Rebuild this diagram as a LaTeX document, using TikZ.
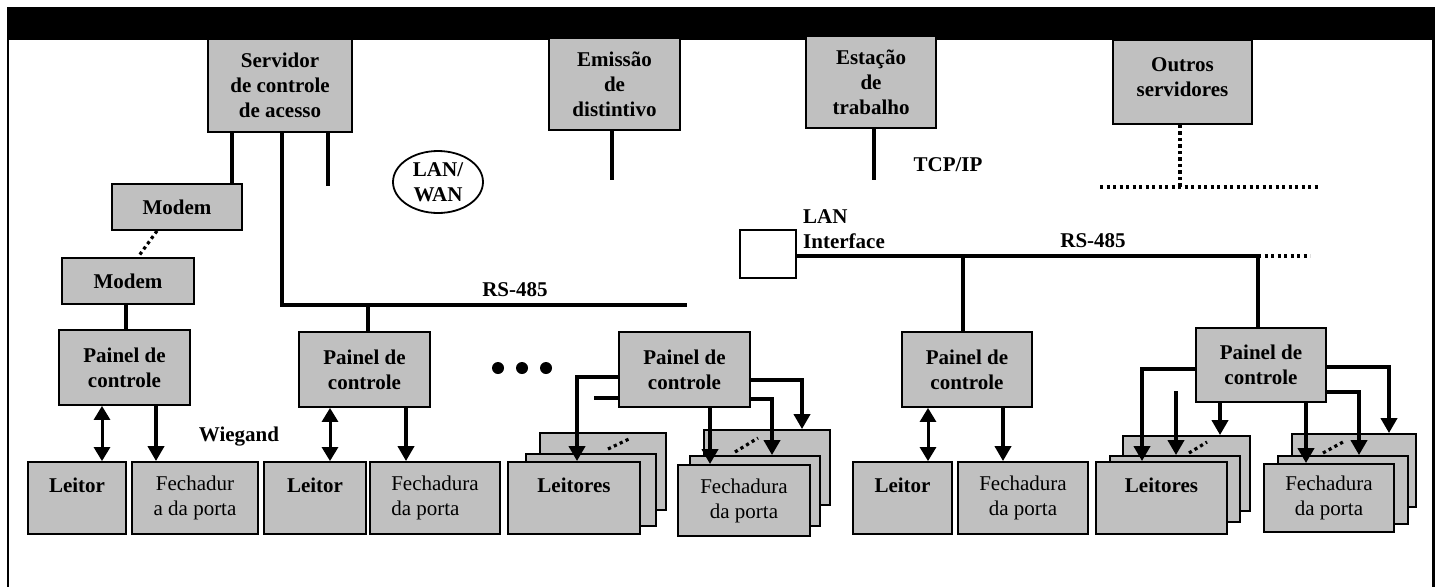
\documentclass[tikz,border=0pt]{standalone}
\usepackage{fontspec}
\setmainfont{Liberation Serif}
\usetikzlibrary{arrows.meta,shapes.geometric}
\definecolor{boxgray}{RGB}{192,192,192}
\newcommand\diagfont{\fontsize{21}{25}\selectfont}
\tikzset{
 box/.style={draw, line width=1.8pt, fill=boxgray, inner sep=0pt, align=center, font=\diagfont\bfseries},
 fech/.style={box, font=\diagfont},
 conn/.style={line width=4pt},
 arr/.style={line width=4pt, -{Triangle[width=16pt,length=15pt]}},
 darr/.style={line width=3pt, {Triangle[width=16pt,length=14pt]}-{Triangle[width=16pt,length=14pt]}},
 dots/.style={line width=3.2pt, dash pattern=on 3.2pt off 3.3pt},
 lbl/.style={inner sep=0pt, align=center, font=\diagfont\bfseries}
}
\begin{document}
\begin{tikzpicture}[x=1pt,y=-1pt]
\useasboundingbox (0,0) rectangle (1437,587);
% frame
\fill (7,7) rectangle (1435,40);
\draw[line width=2.3pt] (8,40) -- (8,587);
\draw[line width=2.3pt] (1433.5,40) -- (1433.5,587);
% top boxes
\node[box, minimum width=144pt, minimum height=93pt] (serv) at (280,85.5) {Servidor\\de controle\\de acesso};
\node[box, minimum width=131pt, minimum height=92pt] (emis) at (614.5,84) {Emissão\\de\\distintivo};
\node[box, minimum width=130pt, minimum height=92pt] (estac) at (871,82) {Estação\\de\\trabalho};
\node[box, minimum width=139pt, minimum height=84pt] (outros) at (1182.5,82) {Outros\\servidores\\[-15pt]\mbox{}};
\node[draw, ellipse, line width=1.8pt, fill=white, minimum width=90pt, minimum height=62pt, inner sep=0pt, align=center, font=\diagfont\bfseries] (lanwan) at (438,182) {LAN/\\WAN};
\node[box, minimum width=130pt, minimum height=46pt] (mod1) at (177,207) {Modem};
\node[box, minimum width=132pt, minimum height=46pt] (mod2) at (128,281) {Modem};
\node[draw, line width=1.8pt, fill=white, minimum width=56pt, minimum height=48pt, inner sep=0pt] (lanif) at (768,254) {};
% panels
\node[box, minimum width=131pt, minimum height=75pt] (p1) at (124.5,367.5) {Painel de\\controle};
\node[box, minimum width=131pt, minimum height=75pt] (p2) at (364.5,369.5) {Painel de\\controle};
\node[box, minimum width=131pt, minimum height=75pt] (p3) at (684.5,369.5) {Painel de\\controle};
\node[box, minimum width=130pt, minimum height=75pt] (p4) at (967,369.5) {Painel de\\controle};
\node[box, minimum width=130pt, minimum height=74pt] (p5) at (1261,365) {Painel de\\controle};
% bottom boxes
\node[box, minimum width=98pt, minimum height=72pt] (l1) at (77,498) {Leitor\\\mbox{}};
\node[fech, minimum width=126pt, minimum height=72pt] (f1) at (195,498) {Fechadur\\a da porta};
\node[box, minimum width=102pt, minimum height=72pt] (l2) at (315,498) {Leitor\\\mbox{}};
\node[fech, align=left, minimum width=130pt, minimum height=72pt] (f2) at (435,498) {Fechadura\\da porta};
\node[box, minimum width=126pt, minimum height=77pt] (ls1b) at (603,471.5) {};
\node[box, minimum width=130pt, minimum height=72pt] (ls1m) at (591,490) {};
\node[box, minimum width=132pt, minimum height=72pt] (ls1) at (574,498) {Leitores\\\mbox{}};
\node[box, minimum width=126pt, minimum height=75pt] (fs1b) at (767,467.5) {};
\node[box, minimum width=130pt, minimum height=70pt] (fs1m) at (755,491) {};
\node[fech, minimum width=132pt, minimum height=71pt] (fs1) at (744,500.5) {Fechadura\\da porta};
\node[box, minimum width=99pt, minimum height=72pt] (l3) at (902.5,498) {Leitor\\\mbox{}};
\node[fech, minimum width=130pt, minimum height=72pt] (f4) at (1023,498) {Fechadura\\da porta};
\node[box, minimum width=127pt, minimum height=75pt] (ls2b) at (1186.5,473.5) {};
\node[box, minimum width=130pt, minimum height=66pt] (ls2m) at (1175,489) {};
\node[box, minimum width=131pt, minimum height=72pt] (ls2) at (1161.5,498) {Leitores\\\mbox{}};
\node[box, minimum width=124pt, minimum height=73pt] (fs2b) at (1354,470.5) {};
\node[box, minimum width=130pt, minimum height=68pt] (fs2m) at (1343,490) {};
\node[fech, minimum width=130pt, minimum height=68pt] (fs2) at (1329,498) {Fechadura\\da porta};
% stack dotted marks
\draw[dots] (608,449) -- (631,438);
\draw[dots] (735,452) -- (758,438);
\draw[dots] (1189,453) -- (1207,442);
\draw[dots] (1323,453) -- (1343,442);
% ellipsis dots
\fill (498,368) circle[radius=6pt];
\fill (522,368) circle[radius=6pt];
\fill (546,368) circle[radius=6pt];
% labels
\node[lbl] (rs1) at (515,290) {RS-485};
\node[lbl] (rs2) at (1093,241) {RS-485};
\node[lbl] (tcp) at (948,165) {TCP/IP};
\node[lbl, align=left, anchor=west] (lanl) at (803,229.5) {LAN\\Interface};
\node[lbl] (wieg) at (239,437) {Wiegand};
% top connectors
\draw[conn] (serv.south -| 232,0) -- (mod1.north -| 232,0);
\coordinate (b1e) at (687,305);
\draw[conn] (serv.south -| 282,0) |- (b1e);
\coordinate (sst) at (328,186);
\draw[conn] (serv.south -| sst) -- (sst);
\coordinate (est) at (612,180);
\draw[conn] (emis.south -| est) -- (est);
\coordinate (tst) at (874,180);
\draw[conn] (estac.south -| tst) -- (tst);
\coordinate (ol) at (1100,187);
\coordinate (or) at (1320,187);
\draw[dots] (ol) -- (or);
\draw[dots] (outros.south -| 1180,0) -- (ol -| 1180,0);
\draw[dots] (mod1.south -| 157,0) -- (mod2.north -| 138,0);
\draw[conn] (mod2.south -| 126,0) -- (p1.north -| 126,0);
\draw[conn] (b1e -| 368,0) -- (p2.north -| 368,0);
% p1, p2
\draw[darr] (p1.south -| 102,0) -- (l1.north -| 102,0);
\draw[arr] (p1.south -| 156,0) -- (f1.north -| 156,0);
\draw[darr] (p2.south -| 330,0) -- (l2.north -| 330,0);
\draw[arr] (p2.south -| 406,0) -- (f2.north -| 406,0);
% p3
\draw[arr] (p3.west |- 0,377) -| (ls1.north -| 577,0);
\coordinate (st3) at (594,398);
\draw[conn] (p3.west |- st3) -- (st3);
\draw[arr] (p3.south -| 710,0) -- (fs1.north -| 710,0);
\draw[arr] (p3.east |- 0,399) -| (fs1m.north -| 772,0);
\draw[arr] (p3.east |- 0,380) -| (fs1b.north -| 802,0);
% right bus
\coordinate (b2e) at (1258,256);
\coordinate (b2d) at (1310,256);
\draw[conn] (lanif.east |- b2e) -- (b2e);
\draw[dots] (b2e) -- (b2d);
\draw[conn] (b2e -| 963,0) -- (p4.north -| 963,0);
\draw[conn] (b2e) -- (p5.north -| b2e);
% p4
\draw[darr] (p4.south -| 928,0) -- (l3.north -| 928,0);
\draw[arr] (p4.south -| 1003,0) -- (f4.north -| 1003,0);
% p5
\draw[arr] (p5.west |- 0,369) -| (ls2.north -| 1142,0);
\coordinate (fs5) at (1176,391);
\draw[arr] (fs5) -- (ls2m.north -| fs5);
\draw[arr] (p5.south -| 1220,0) -- (ls2b.north -| 1220,0);
\draw[arr] (p5.south -| 1306,0) -- (fs2.north -| 1306,0);
\draw[arr] (p5.east |- 0,392) -| (fs2m.north -| 1359,0);
\draw[arr] (p5.east |- 0,367) -| (fs2b.north -| 1389,0);
\end{tikzpicture}
\end{document}
